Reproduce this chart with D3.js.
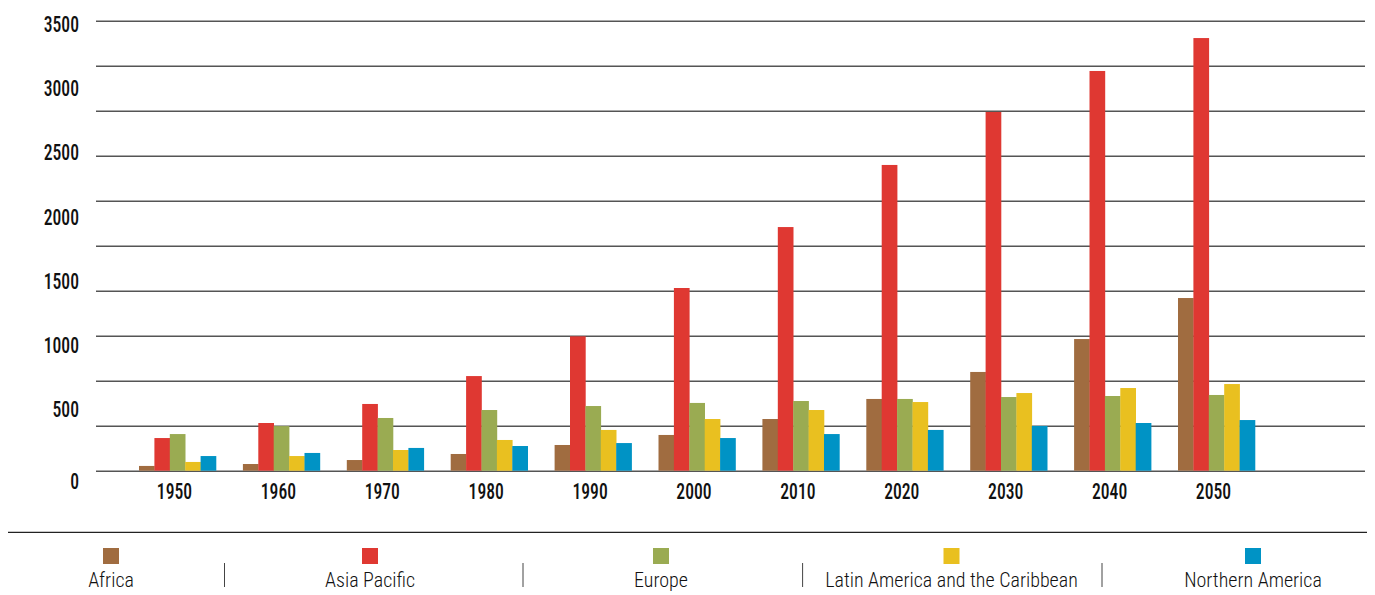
<!DOCTYPE html>
<html>
<head>
<meta charset="utf-8">
<script src="https://cdn.jsdelivr.net/npm/d3@7"></script>
<style>
  html, body { margin: 0; padding: 0; background: #ffffff; }
  svg { display: block; }
</style>
</head>
<body>
<svg id="chart" width="1375" height="595"></svg>
<script>
// ---- data ----
const years = [1950, 1960, 1970, 1980, 1990, 2000, 2010, 2020, 2030, 2040, 2050];
const seriesNames = ["Africa", "Asia Pacific", "Europe", "Latin America and the Caribbean", "Northern America"];
const africa   = [37, 52, 83, 130, 200, 278, 402, 558, 768, 1024, 1343];
const asiaPac  = [254, 371, 519, 736, 1045, 1421, 1895, 2378, 2790, 3109, 3365];
const europe   = [285, 347, 410, 472, 503, 527, 542, 558, 573, 581, 589];
const latAm    = [68, 114, 161, 239, 317, 402, 472, 534, 604, 643, 674];
const northAm  = [114, 138, 177, 192, 215, 254, 285, 317, 348, 371, 394];
const yTickLabels = [0, 500, 1000, 1500, 2000, 2500, 3000, 3500];
const gridValues = d3.range(0, 3501, 350);
const colors = ["#a06c40", "#df3832", "#9aab52", "#e9c020", "#0093c5"];

const seriesValues = [africa, asiaPac, europe, latAm, northAm];
const rows = years.map((yr, i) => ({ year: yr, values: seriesNames.map((s, k) => ({ key: s, value: seriesValues[k][i] })) }));

// ---- layout ----
const svg = d3.select("#chart");
const gridLeft = 96, gridRight = 1365;
const y = d3.scaleLinear().domain([0, 3500]).range([470.7, 20.7]);
const x = d3.scaleBand().domain(years).range([125.55, 1268.45]).paddingInner(0.259).paddingOuter(0.1295);
const xInner = d3.scaleBand().domain(seriesNames).range([0, x.bandwidth()]).padding(0);
const color = d3.scaleOrdinal().domain(seriesNames).range(colors);

const labelFont = "Roboto, 'Open Sans', sans-serif";

function styleAxisText(sel) {
  sel.attr("fill", "#111")
    .attr("transform", "scale(0.82,1)")
    .style("font-family", labelFont)
    .style("font-stretch", "condensed")
    .style("font-size", "21.5px")
    .style("font-weight", "500");
}

// grid lines
const grid = svg.append("g")
  .attr("transform", `translate(${gridLeft},0)`)
  .call(d3.axisLeft(y).tickValues(gridValues).tickSize(-(gridRight - gridLeft)).tickFormat(""));
grid.select(".domain").remove();
grid.selectAll(".tick line").attr("stroke", "#555").attr("stroke-width", 1.6);

// y labels
const yAx = svg.append("g")
  .attr("transform", "translate(79,0)")
  .call(d3.axisLeft(y).tickValues(yTickLabels).tickSize(0).tickPadding(0).tickFormat(d3.format("d")));
yAx.select(".domain").remove();
yAx.selectAll("text")
  .attr("x", 0)
  .attr("dy", null)
  .attr("y", d => d === 0 ? 17.5 : 10.5)
  .call(styleAxisText);

// bars
const groups = svg.append("g").selectAll("g")
  .data(rows).join("g")
  .attr("transform", d => `translate(${x(d.year)},0)`);
groups.selectAll("rect")
  .data(d => d.values).join("rect")
  .attr("x", d => xInner(d.key))
  .attr("width", xInner.bandwidth() + 0.3)
  .attr("y", d => y(d.value))
  .attr("height", d => y(0) - y(d.value))
  .attr("fill", d => color(d.key));

// x labels
const xAx = svg.append("g")
  .attr("transform", "translate(-3,0)")
  .call(d3.axisBottom(x).tickSize(0).tickPadding(0));
xAx.select(".domain").remove();
xAx.selectAll("text")
  .attr("dy", null)
  .attr("y", 499.5)
  .call(styleAxisText);

// legend
const legendY = 532.3;
svg.append("line")
  .attr("x1", 8).attr("x2", 1367).attr("y1", legendY).attr("y2", legendY)
  .attr("stroke", "#222").attr("stroke-width", 1.3);

const legendCenters = d3.scaleOrdinal().domain(seriesNames).range([111, 370, 661, 951.5, 1253]);
const separators = [224.5, 523, 802.6, 1102];

const leg = svg.append("g").selectAll("g").data(seriesNames).join("g")
  .attr("transform", d => `translate(${legendCenters(d)},0)`);
leg.append("rect")
  .attr("x", -8).attr("y", 548).attr("width", 16).attr("height", 16)
  .attr("fill", d => color(d));
leg.append("text")
  .attr("x", 0).attr("y", 587)
  .attr("text-anchor", "middle")
  .attr("fill", "#111")
  .style("font-family", labelFont)
  .style("font-stretch", "condensed")
  .style("font-size", "20px")
  .style("font-weight", "300")
  .text(d => d);

svg.append("g").selectAll("line").data(separators).join("line")
  .attr("x1", d => d).attr("x2", d => d)
  .attr("y1", 563).attr("y2", 587)
  .attr("stroke", "#444").attr("stroke-width", 1);
</script>
</body>
</html>
